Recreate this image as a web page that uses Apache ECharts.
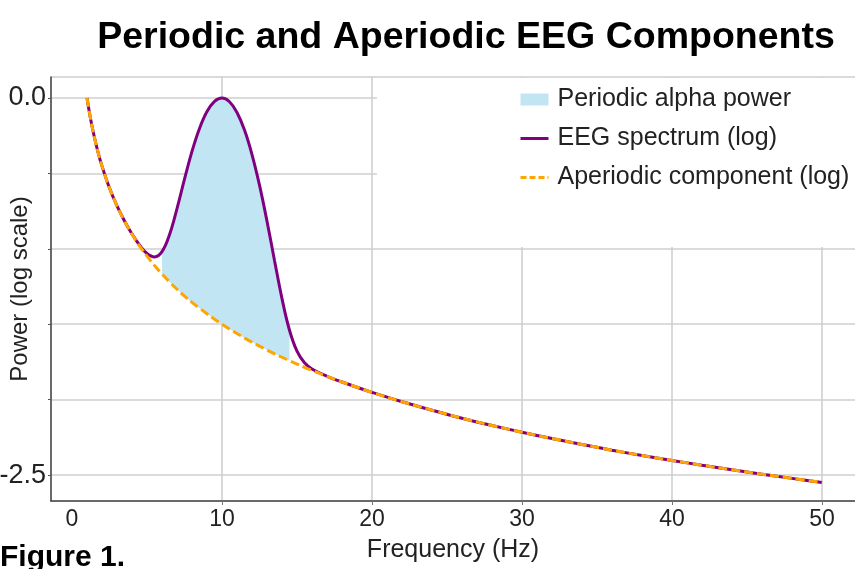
<!DOCTYPE html>
<html>
<head>
<meta charset="utf-8">
<script src="https://cdn.jsdelivr.net/npm/echarts@6/dist/echarts.min.js"></script>
<style>
html,body{margin:0;padding:0;background:#fff;}
#chart{width:855px;height:569px;}
</style>
</head>
<body>
<div id="chart"></div>
<script>
// ---- data ----
const freqs = [1,1.25,1.5,1.75,2,2.5,3,3.5,4,4.5,5,5.5,6,6.5,7,7.5,8,8.5,9,9.5,10,10.5,11,11.5,12,12.5,13,13.5,14,14.5,15,15.5,16,17,18,19,20,22,24,26,28,30,32,34,36,38,40,42,44,46,48,50];
const aperiodic = [0,-0.145,-0.264,-0.365,-0.452,-0.597,-0.716,-0.816,-0.903,-0.980,-1.049,-1.111,-1.167,-1.219,-1.268,-1.313,-1.355,-1.394,-1.431,-1.467,-1.500,-1.532,-1.562,-1.591,-1.619,-1.645,-1.671,-1.696,-1.719,-1.742,-1.764,-1.786,-1.806,-1.846,-1.883,-1.918,-1.952,-2.014,-2.070,-2.123,-2.171,-2.216,-2.258,-2.297,-2.335,-2.370,-2.403,-2.435,-2.465,-2.494,-2.522,-2.549];
const eeg = [0,-0.145,-0.264,-0.365,-0.452,-0.597,-0.716,-0.816,-0.902,-0.975,-1.031,-1.054,-1.019,-0.907,-0.733,-0.538,-0.354,-0.202,-0.090,-0.022,0.000,-0.025,-0.096,-0.213,-0.375,-0.578,-0.817,-1.077,-1.330,-1.540,-1.679,-1.756,-1.797,-1.845,-1.883,-1.918,-1.952,-2.014,-2.070,-2.123,-2.171,-2.216,-2.258,-2.297,-2.335,-2.370,-2.403,-2.435,-2.465,-2.494,-2.522,-2.549];
const alphaBand = [6, 14.5];
const xTickLabels = [0,10,20,30,40,50];
const xGridTicks = [10,20,30,40,50];
const yTicks = [0,-0.5,-1,-1.5,-2,-2.5];
const yTickLabels = [0,-2.5];
const names = ['Periodic alpha power','EEG spectrum (log)','Aperiodic component (log)'];

// ---- build series data ----
const eegData = freqs.map((f,i)=>[f,eeg[i]]);
const apData = freqs.map((f,i)=>[f,aperiodic[i]]);
// band data stored as [value, freq] so that the stacked dimension is the value (y)
const bandBase = [], bandFill = [];
freqs.forEach((f,i)=>{
  if (f>=alphaBand[0] && f<=alphaBand[1]) {
    bandBase.push([aperiodic[i], f]);
    bandFill.push([+(eeg[i]-aperiodic[i]).toFixed(4), f]);
  }
});

const font = 'Liberation Sans, Arial, Helvetica, sans-serif';
const chart = echarts.init(document.getElementById('chart'), null, {renderer:'canvas'});
chart.setOption({
  animation:false,
  backgroundColor:'#fff',
  textStyle:{fontFamily:font},
  title:{
    text:'Periodic and Aperiodic EEG Components',
    left:466, top:19, textAlign:'center', padding:0,
    textStyle:{fontFamily:font,fontWeight:'bold',fontSize:37.5,color:'#000'}
  },
  grid:{left:51, top:77, width:816, height:424, show:true, borderColor:'#b5b5b5', borderWidth:1,
    containLabel:false, outerBoundsMode:'none'},
  xAxis:{
    type:'value', min:-1.4, max:53,
    name:'Frequency (Hz)', nameLocation:'middle', nameGap:37, nameMoveOverlap:false,
    nameTextStyle:{fontFamily:font,fontSize:25,color:'#222',padding:[0,12,0,0]},
    axisLine:{show:true,onZero:false,lineStyle:{color:'#444',width:1.5}},
    axisTick:{show:true,customValues:xGridTicks,length:4,lineStyle:{color:'#777'}},
    axisLabel:{customValues:xTickLabels,fontFamily:font,fontSize:23,color:'#222',margin:7},
    splitLine:{show:true,lineStyle:{color:'#cccccc',width:1.5}}
  },
  yAxis:{
    type:'value', min:-2.672, max:0.139,
    name:'Power (log scale)', nameLocation:'middle', nameGap:19, nameMoveOverlap:false,
    nameTextStyle:{fontFamily:font,fontSize:24,color:'#222'},
    axisLine:{show:true,onZero:false,lineStyle:{color:'#444',width:1.5}},
    axisTick:{show:true,customValues:yTicks,length:3,lineStyle:{color:'#555'}},
    axisLabel:{customValues:yTickLabels,fontFamily:font,fontSize:27,color:'#222',margin:5,
      formatter:v=>v.toFixed(1)},
    splitLine:{show:true,lineStyle:{color:'#cfcfcf',width:1.5}}
  },
  legend:{
    orient:'vertical', left:519, top:87, padding:0, itemGap:14,
    itemWidth:28, itemHeight:12, z:5,
    textStyle:{fontFamily:font,fontSize:25,color:'#222',padding:[0,0,0,4]},
    data:[
      {name:names[0], icon:'rect'},
      {name:names[1], itemStyle:{opacity:0}, lineStyle:{width:3}},
      {name:names[2], itemStyle:{opacity:0}, lineStyle:{width:3,type:[6,3]}}
    ]
  },
  graphic:[
    {type:'rect', z:3, silent:true, shape:{x:377,y:78,width:480,height:169}, style:{fill:'#fff'}},
    {type:'text', left:0, top:543, z:10, style:{text:'Figure 1.', font:'bold 30px '+font, fill:'#000'}}
  ],
  series:[
    {name:'band-base', type:'line', data:bandBase, encode:{x:1,y:0}, stack:'alpha', stackStrategy:'all',
      symbol:'none', smooth:0.4, lineStyle:{opacity:0,width:0}, silent:true, z:1, legendHoverLink:false},
    {name:names[0], type:'line', data:bandFill, encode:{x:1,y:0}, stack:'alpha', stackStrategy:'all',
      symbol:'none', smooth:0.4, itemStyle:{color:'#c2e5f4'},
      lineStyle:{opacity:0,width:0}, areaStyle:{color:'#c2e5f4',opacity:1}, z:1},
    {name:names[1], type:'line', data:eegData, symbol:'none', smooth:0.4,
      itemStyle:{color:'#800080'},
      lineStyle:{color:'#800080',width:3}, z:2},
    {name:names[2], type:'line', data:apData, symbol:'none', smooth:0.4,
      itemStyle:{color:'#ffa500'},
      lineStyle:{color:'#ffa500',width:3,type:[9,4]}, z:3}
  ]
});
</script>
</body>
</html>
